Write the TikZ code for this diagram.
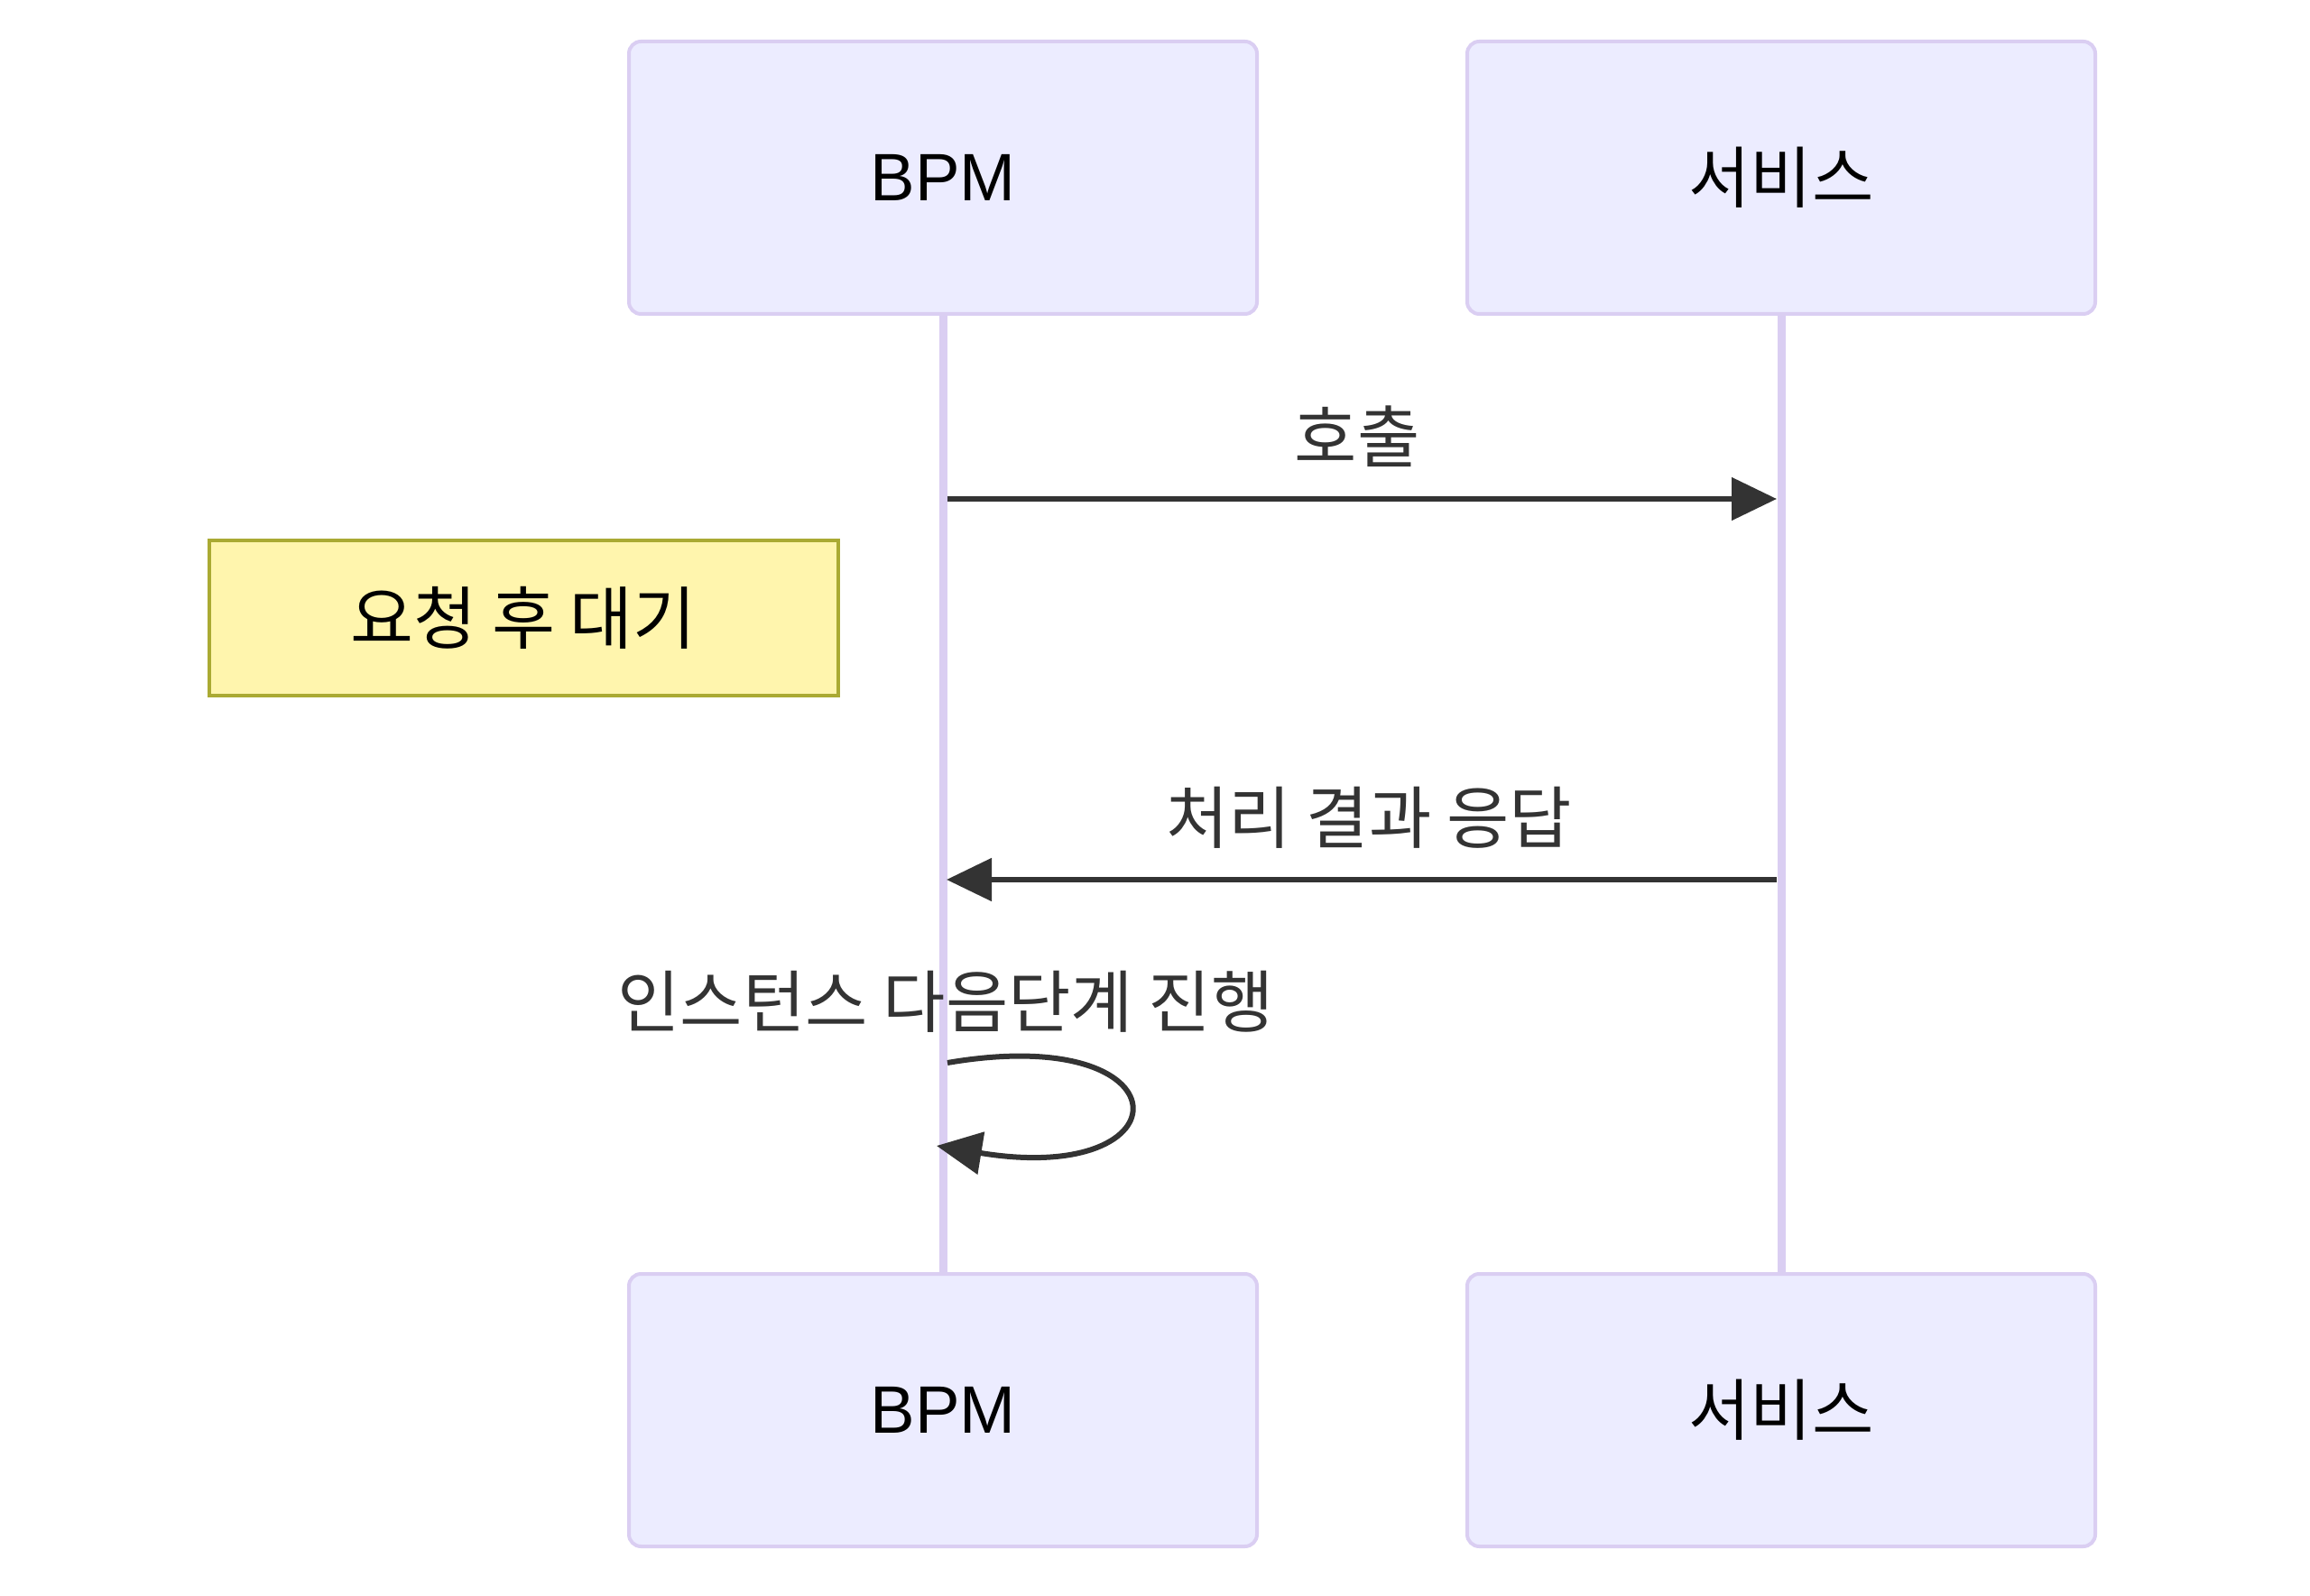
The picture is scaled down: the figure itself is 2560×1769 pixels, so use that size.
\documentclass[tikz,border=0pt]{standalone}
\usepackage{fontspec}
\setmainfont{Liberation Sans}
\newfontfamily\kr{Noto Sans CJK KR}
\usetikzlibrary{arrows.meta}
\definecolor{actfill}{HTML}{ECECFF}
\definecolor{actline}{HTML}{DACEF2}
\definecolor{notefill}{HTML}{FFF5AD}
\definecolor{noteline}{HTML}{AAAA33}
\definecolor{msg}{HTML}{333333}
\begin{document}
\begin{tikzpicture}[x=0.3pt,y=-0.3pt,
  actor/.style={draw=actline,fill=actfill,line width=1.2pt,rounded corners=4pt,
    minimum width=696*0.3pt,minimum height=302*0.3pt,inner sep=0pt,font=\fontsize{22.3}{27}\selectfont},
  life/.style={draw=actline,line width=2.7pt},
  note/.style={draw=noteline,fill=notefill,line width=1.2pt,minimum width=697*0.3pt,
    minimum height=172*0.3pt,inner sep=0pt,font=\kr\fontsize{22.8}{27}\selectfont},
  msgline/.style={draw=msg,line width=1.8pt,-{Triangle[length=15pt,width=14pt]}},
  msgtext/.style={text=msg,inner sep=0pt,font=\kr\fontsize{22.6}{27}\selectfont}]
\useasboundingbox (0,0) rectangle (2560,1769);
% lifelines
\coordinate (l1t) at (1045,348); \coordinate (l1b) at (1045,1412);
\coordinate (l2t) at (1974,348); \coordinate (l2b) at (1974,1412);
\draw[life] (l1t) -- (l1b);
\draw[life] (l2t) -- (l2b);
% actors
\node[actor] (bpmT) at (1045,197) {BPM};
\node[actor] (svcT) at (1974,197) {\kr 서비스};
\node[actor] (bpmB) at (1045,1563) {BPM};
\node[actor] (svcB) at (1974,1563) {\kr 서비스};
% note
\node[note] (note) at (580,685) {요청 후 대기};
% message 1
\coordinate (m1s) at (1050,553); \coordinate (m1e) at (1969,553);
\draw[msgline] (m1s) -- (m1e);
\node[msgtext] (m1t) at (1504,484) {호출};
% message 2
\coordinate (m2s) at (1969,975); \coordinate (m2e) at (1049,975);
\draw[msgline] (m2s) -- (m2e);
\node[msgtext] (m2t) at (1517,906) {처리 결과 응답};
% self message
\node[msgtext] (m3t) at (1048,1110) {인스턴스 다음단계 진행};
\coordinate (m3s) at (1050,1178); \coordinate (m3e) at (1038,1270);
\draw[msgline] (m3s) .. controls (1318,1132) and (1318,1316) .. (m3e);
\end{tikzpicture}
\end{document}
